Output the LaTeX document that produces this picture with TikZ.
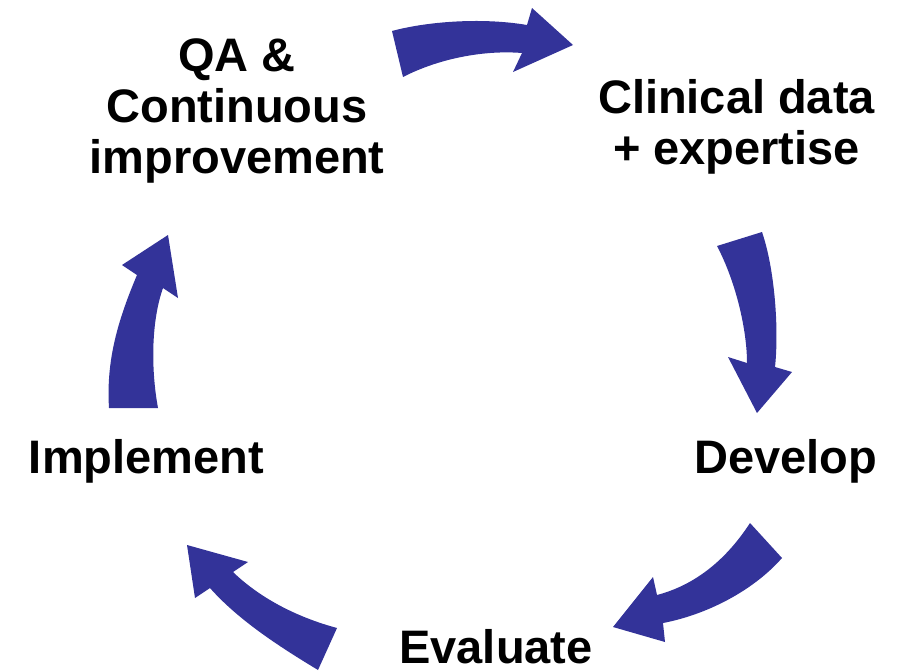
\documentclass[tikz,border=0pt]{standalone}
\usepackage{fontspec}
\setmainfont{Liberation Sans}
\usepackage{tikz}
\usetikzlibrary{arrows}
\definecolor{zzzzbb}{rgb}{0.2,0.2,0.6}
\begin{document}
\begin{tikzpicture}[line cap=round,line join=round,x=1pt,y=-1pt,
lbl/.style={font=\fontsize{47}{51}\selectfont\bfseries,inner sep=0pt,align=center}]
\clip(0,0) rectangle (905,672);
\fill [color=zzzzbb] (392,31) .. controls (425,22) and (480,17) .. (527,25) -- (532,8) -- (573,45) -- (513,72) -- (522,53) .. controls (485,50) and (440,58) .. (403,77) -- cycle;
\fill [color=zzzzbb] (717,246) -- (762,232) .. controls (775,270) and (779,330) .. (775,367) -- (792,372) -- (757,413) -- (728,357) -- (747,363) .. controls (747,330) and (736,282) .. (717,246) -- cycle;
\fill [color=zzzzbb] (750,523) -- (782,558) .. controls (752,592) and (705,615) .. (663,623) -- (665,642) -- (613,627) -- (653,577) -- (657,595) .. controls (695,585) and (726,560) .. (750,523) -- cycle;
\fill [color=zzzzbb] (337,628) -- (318,670) .. controls (285,650) and (240,622) .. (210,588) -- (195,598) -- (187,545) -- (248,562) -- (233,572) .. controls (262,600) and (300,618) .. (337,628) -- cycle;
\fill [color=zzzzbb] (109,408) -- (158,408) .. controls (151,370) and (151,322) .. (163,288) -- (178,298) -- (168,235) -- (122,265) -- (137,275) .. controls (118,320) and (106,360) .. (109,408) -- cycle;
\node[lbl] (qa) at (237,110.5) {QA \&\\Continuous\\improvement};
\node[lbl] (clin) at (736.5,126.5) {Clinical data\\+ expertise};
\node[lbl,anchor=base] (dev) at (786,473) {Develop};
\node[lbl,anchor=base] (eval) at (496,663) {Evaluate};
\node[lbl,anchor=base] (impl) at (146.5,473) {Implement};
\end{tikzpicture}
\end{document}
